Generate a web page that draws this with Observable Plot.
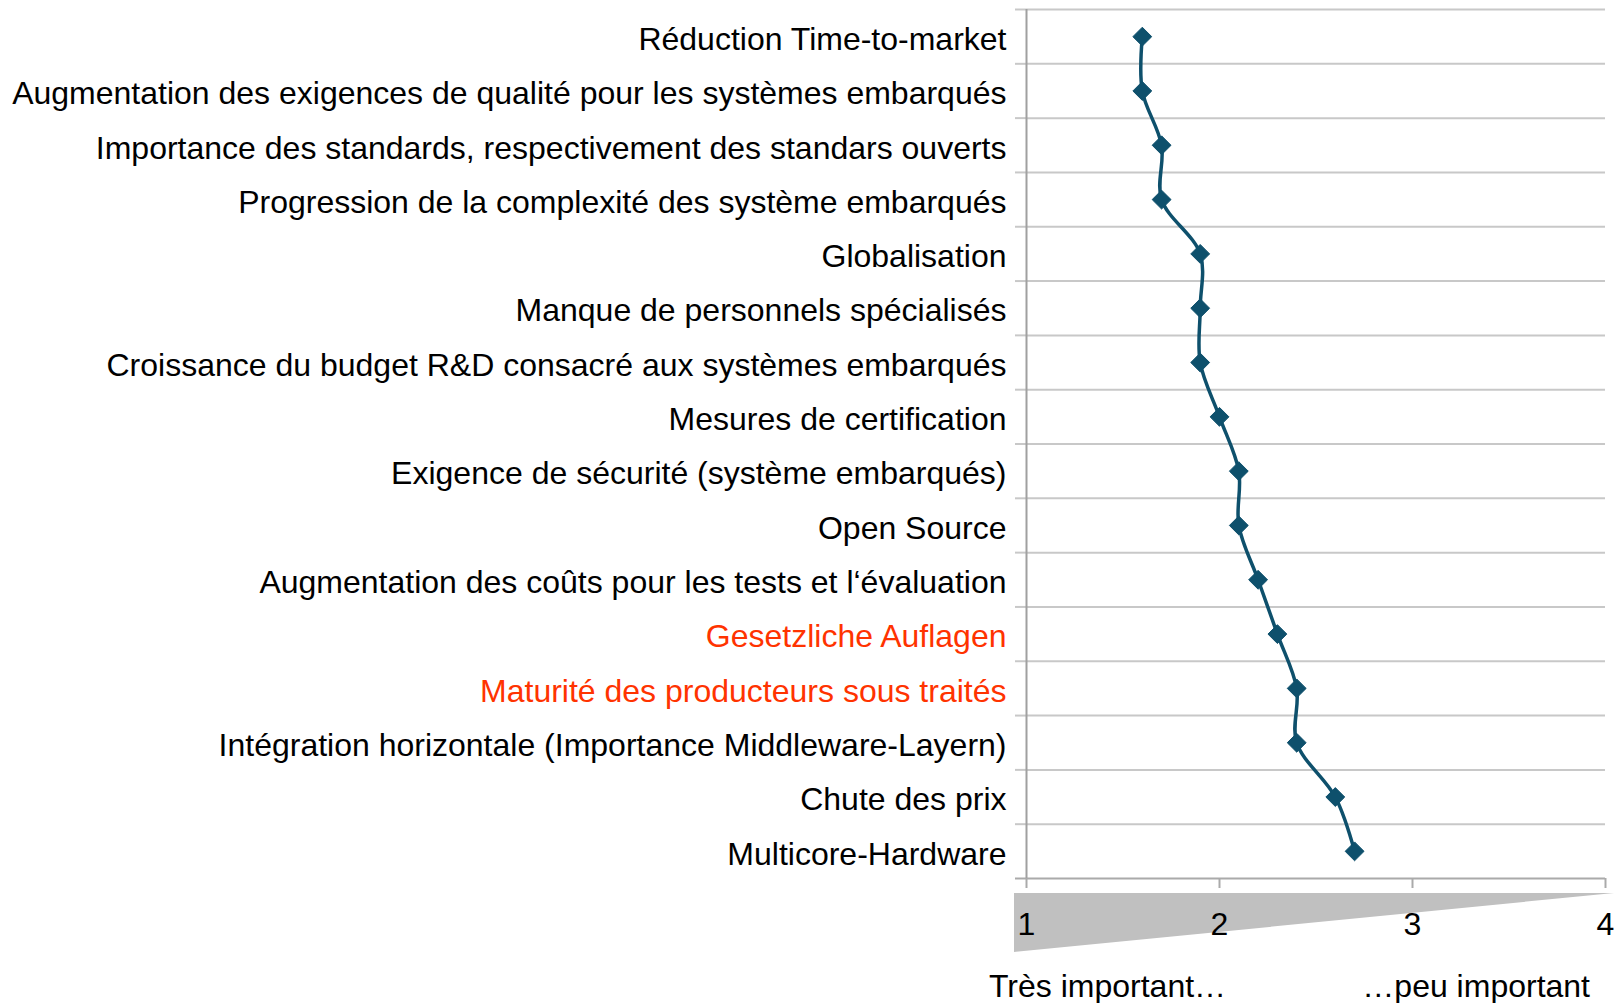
<!DOCTYPE html>
<html>
<head>
<meta charset="utf-8">
<script src="https://cdn.jsdelivr.net/npm/d3@7"></script>
<script src="https://cdn.jsdelivr.net/npm/@observablehq/plot@0.6"></script>
<style>
  html, body { margin: 0; padding: 0; background: #fff; }
  #chart svg { display: block; }
</style>
</head>
<body>
<div id="chart"></div>
<script>
const categories = [
  "Réduction Time-to-market",
  "Augmentation des exigences de qualité pour les systèmes embarqués",
  "Importance des standards, respectivement des standars ouverts",
  "Progression de la complexité des système embarqués",
  "Globalisation",
  "Manque de personnels spécialisés",
  "Croissance du budget R&D consacré aux systèmes embarqués",
  "Mesures de certification",
  "Exigence de sécurité (système embarqués)",
  "Open Source",
  "Augmentation des coûts pour les tests et l‘évaluation",
  "Gesetzliche Auflagen",
  "Maturité des producteurs sous traités",
  "Intégration horizontale (Importance Middleware-Layern)",
  "Chute des prix",
  "Multicore-Hardware"
];
const values = [1.6, 1.6, 1.7, 1.7, 1.9, 1.9, 1.9, 2.0, 2.1, 2.1, 2.2, 2.3, 2.4, 2.4, 2.6, 2.7];
const highlighted = ["Gesetzliche Auflagen", "Maturité des producteurs sous traités"];
const xTicks = [1, 2, 3, 4];
const scaleStart = "Très important…";
const scaleEnd = "…peu important";

const data = categories.map((c, i) => ({category: c, index: i, value: values[i]}));
const boundaries = d3.range(categories.length + 1).map(i => i - 0.5);

const lineColor = "#0e506c";
const font = "'Liberation Sans', Arial, sans-serif";
const fs = 32;

const plot = Plot.plot({
  width: 1617,
  height: 1003,
  marginLeft: 1026,
  marginRight: 12,
  marginTop: 9,
  marginBottom: 125,
  style: {fontFamily: font, fontSize: fs + "px", color: "#000", background: "#fff"},
  x: {domain: [1, 4], label: null},
  y: {domain: [-0.5, categories.length - 0.5], reverse: true, label: null},
  marks: [
    Plot.ruleY(boundaries.slice(0, -1), {x1: 1, x2: 4, stroke: "#c8c8c8", strokeWidth: 2}),
    Plot.ruleY([boundaries[boundaries.length - 1]], {x1: 1, x2: 4, stroke: "#aaaaaa", strokeWidth: 2}),
    Plot.axisY(boundaries.slice(0, -1), {tickSize: 11, tickFormat: () => "", stroke: "#c8c8c8", strokeWidth: 2, label: null}),
    Plot.axisY([boundaries[boundaries.length - 1]], {tickSize: 11, tickFormat: () => "", stroke: "#aaaaaa", strokeWidth: 2, label: null}),
    Plot.axisY(d3.range(categories.length), {
      tickSize: 0,
      tickPadding: 20,
      dy: 3,
      tickFormat: i => categories[i],
      fill: i => highlighted.includes(categories[i]) ? "#ff3300" : "#000",
      fontSize: fs,
      label: null
    }),
    Plot.ruleX([1], {y1: -0.5, y2: categories.length - 0.5, stroke: "#a0a0a0", strokeWidth: 2}),
    Plot.axisX(xTicks, {tickSize: 10, tickPadding: 24, tickFormat: d3.format("d"), stroke: "#aaaaaa", strokeWidth: 2, fill: "#000", fontSize: fs, label: null}),
    Plot.line(data, {x: "value", y: "index", stroke: lineColor, strokeWidth: 3.5, curve: "catmull-rom"}),
    Plot.dot(data, {x: "value", y: "index", symbol: "diamond2", r: 8.5, fill: lineColor, stroke: lineColor, strokeWidth: 1})
  ]
});

document.getElementById("chart").appendChild(plot);

// Decorative importance wedge under the x axis, positioned from the x scale
const xs = plot.scale("x");
const ys = plot.scale("y");
const x0 = xs.apply(1) - 12;
const x1 = xs.apply(4) + 9;
const yAxis = ys.apply(categories.length - 0.5);
const svg = d3.select(plot);
svg.insert("polygon", ":first-child")
  .attr("points", `${x0},${yAxis + 15} ${x1},${yAxis + 15} ${x0},${yAxis + 74}`)
  .attr("fill", "#c0c0c0");
svg.select("style").lower();

svg.append("text")
  .attr("x", xs.apply(1) - 37)
  .attr("y", yAxis + 119)
  .attr("text-anchor", "start")
  .attr("font-family", font)
  .attr("font-size", fs)
  .attr("fill", "#000")
  .text(scaleStart);
svg.append("text")
  .attr("x", xs.apply(4) - 15)
  .attr("y", yAxis + 119)
  .attr("text-anchor", "end")
  .attr("font-family", font)
  .attr("font-size", fs)
  .attr("fill", "#000")
  .text(scaleEnd);
</script>
</body>
</html>
